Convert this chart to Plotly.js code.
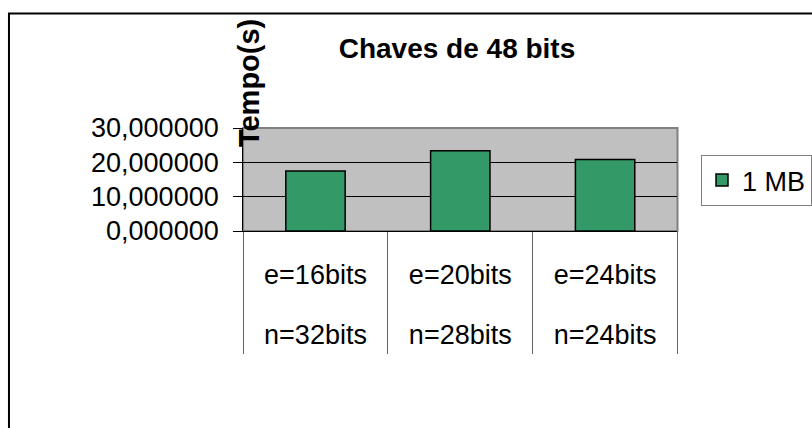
<!DOCTYPE html>
<html>
<head>
<meta charset="utf-8">
<script src="https://cdn.plot.ly/plotly-3.0.1.min.js"></script>
<style>html,body{margin:0;padding:0;background:#fff;}#chart{width:812px;height:428px;}</style>
</head>
<body>
<div id="chart"></div>
<script>
// Data
const categories = ["c1", "c2", "c3"];
const eLabels = ["e=16bits", "e=20bits", "e=24bits"];
const nLabels = ["n=32bits", "n=28bits", "n=24bits"];
const seriesName = "1 MB";
const times = [17.5, 23.4, 20.8];
const yTicks = [0, 10, 20, 30];
const chartTitle = "Chaves de 48 bits";
const yTitle = "Tempo(s)";

const W = 812, H = 428;
const FONT = "Arial, 'Liberation Sans', sans-serif";
const idx = categories.map((c, i) => i);
const boundaries = idx.map(i => i - 0.5).concat([categories.length - 0.5]);
const xRange = [-0.5, categories.length - 0.5];

const barTrace = {
  type: "bar",
  x: categories,
  y: times,
  name: seriesName,
  marker: {color: "#339966", line: {color: "#000000", width: 1.5}},
  hoverinfo: "none"
};
// invisible helper traces so the label / divider axes are drawn
function helper(xa) {
  return {type: "scatter", mode: "markers", x: idx, y: times, xaxis: xa, yaxis: "y",
          marker: {opacity: 0, size: 1}, showlegend: false, hoverinfo: "none"};
}

const labelAxis = (pos, text) => ({
  overlaying: "x",
  anchor: "free",
  position: pos,
  type: "linear",
  range: xRange,
  tickmode: "array",
  tickvals: idx,
  ticktext: text,
  ticks: "",
  showline: false,
  showgrid: false,
  zeroline: false,
  tickfont: {family: FONT, size: 27, color: "#000000"},
  fixedrange: true
});

const layout = {
  width: W, height: H,
  margin: {l: 0, r: 0, t: 0, b: 0, pad: 0},
  paper_bgcolor: "#ffffff",
  plot_bgcolor: "#c0c0c0",
  separators: ",.",
  bargap: 0.59,
  showlegend: true,
  font: {family: FONT, color: "#000000", size: 27},
  title: {
    text: "<b>" + chartTitle + "</b>",
    font: {family: FONT, size: 28, color: "#000000"},
    x: 457 / W, xanchor: "center",
    y: 1 - 48 / H, yanchor: "middle", yref: "container"
  },
  xaxis: {
    domain: [244 / W, 680 / W],
    anchor: "y",
    type: "category",
    categoryarray: categories,
    showticklabels: false,
    ticks: "",
    showline: true,
    linecolor: "#000000",
    linewidth: 1,
    showgrid: false,
    zeroline: false,
    fixedrange: true
  },
  xaxis2: labelAxis((H - 256) / H, eLabels),
  xaxis3: labelAxis((H - 316) / H, nLabels),
  xaxis4: {
    overlaying: "x",
    anchor: "y",
    type: "linear",
    range: xRange,
    tickmode: "array",
    tickvals: boundaries,
    showticklabels: false,
    ticks: "outside",
    ticklen: 122,
    tickwidth: 1,
    tickcolor: "#666666",
    showline: false,
    showgrid: false,
    zeroline: false,
    fixedrange: true
  },
  yaxis: {
    domain: [(H - 231) / H, (H - 128) / H],
    anchor: "x",
    range: [0, 30],
    tickmode: "array",
    tickvals: yTicks,
    tickformat: ".6f",
    ticks: "outside",
    ticklen: 9,
    tickwidth: 1,
    tickcolor: "#000000",
    ticklabelstandoff: 9,
    showline: true,
    linecolor: "#000000",
    linewidth: 1,
    showgrid: true,
    gridcolor: "#000000",
    gridwidth: 1,
    zeroline: false,
    tickfont: {family: FONT, size: 27, color: "#000000"},
    fixedrange: true
  },
  legend: {
    x: 704 / W, xanchor: "left",
    y: 1 - 155 / H, yanchor: "top",
    bgcolor: "#ffffff",
    bordercolor: "#808080",
    borderwidth: 1,
    font: {family: FONT, size: 27, color: "#000000"}
  },
  annotations: [{
    text: "<b>" + yTitle + "</b>",
    textangle: -90,
    xref: "paper", yref: "paper",
    x: 250 / W, y: 1 - 83 / H,
    xanchor: "center", yanchor: "middle",
    showarrow: false,
    font: {family: FONT, size: 29, color: "#000000"}
  }],
  shapes: [
    {type: "rect", xref: "x domain", yref: "y domain", x0: 0, x1: 1, y0: 0, y1: 1,
     line: {color: "#808080", width: 2}, layer: "below"},
    {type: "rect", xref: "paper", yref: "paper", x0: 9 / W, x1: 1.05, y0: -0.05, y1: 1 - 13.5 / H,
     line: {color: "#000000", width: 2}, fillcolor: "rgba(0,0,0,0)", layer: "above"}
  ]
};

Plotly.newPlot("chart", [barTrace, helper("x2"), helper("x3"), helper("x4")], layout,
  {displayModeBar: false, staticPlot: true});
</script>
</body>
</html>
